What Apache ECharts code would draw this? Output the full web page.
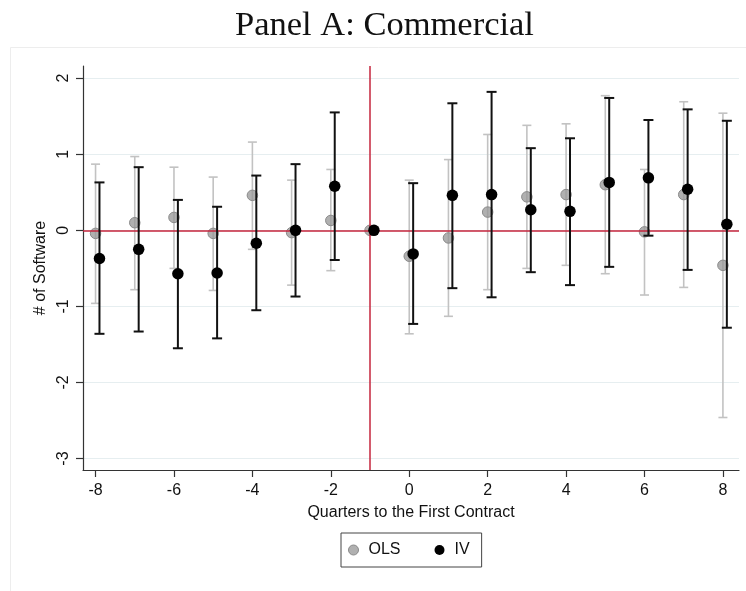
<!DOCTYPE html>
<html>
<head>
<meta charset="utf-8">
<script src="https://cdn.jsdelivr.net/npm/echarts@6/dist/echarts.min.js"></script>
<style>
  html, body { margin: 0; padding: 0; background: #fff; }
  #chart { width: 746px; height: 591px; }
</style>
</head>
<body>
<div id="chart"></div>
<script>
// ---- data ----
const quarters = [-8, -7, -6, -5, -4, -3, -2, -1, 0, 1, 2, 3, 4, 5, 6, 7, 8];
const olsCoef  = [-0.04, 0.10, 0.17, -0.04, 0.46, -0.03, 0.13, 0, -0.34, -0.10, 0.24, 0.44, 0.47, 0.60, -0.02, 0.47, -0.46];
const olsLow   = [-0.96, -0.78, -0.50, -0.79, -0.25, -0.72, -0.53, null, -1.36, -1.13, -0.78, -0.50, -0.46, -0.57, -0.85, -0.75, -2.46];
const olsHigh  = [0.87, 0.97, 0.83, 0.70, 1.16, 0.66, 0.80, null, 0.66, 0.93, 1.26, 1.38, 1.40, 1.77, 0.80, 1.69, 1.54];
const ivCoef   = [-0.37, -0.25, -0.57, -0.56, -0.17, 0.00, 0.58, 0, -0.31, 0.46, 0.47, 0.27, 0.25, 0.63, 0.69, 0.54, 0.08];
const ivLow    = [-1.36, -1.33, -1.55, -1.42, -1.05, -0.87, -0.39, null, -1.23, -0.76, -0.88, -0.55, -0.72, -0.48, -0.07, -0.52, -1.28];
const ivHigh   = [0.63, 0.83, 0.40, 0.31, 0.72, 0.87, 1.55, null, 0.62, 1.67, 1.82, 1.08, 1.21, 1.74, 1.45, 1.59, 1.44];
const xTicks = [-8, -6, -4, -2, 0, 2, 4, 6, 8];
const yTicks = [-3, -2, -1, 0, 1, 2];
const refX = -1;
const refY = 0;
const seriesNames = ['OLS', 'IV'];
const titleText = 'Panel A: Commercial';
const xTitle = 'Quarters to the First Contract';
const yTitle = '# of Software';

// ---- build ----
const ivShift = 0.1;
const RED = '#c4253c';
const FONT = 'Liberation Sans';
const OLS_STYLE = { color: 'rgba(150,150,150,0.75)', borderColor: '#8a8a8a', borderWidth: 1, opacity: 1 };
const IV_STYLE = { color: '#000000', opacity: 1 };

function pts(coef, shift) {
  return quarters.map((q, i) => [q + shift, coef[i]]);
}
function bars(lo, hi, shift) {
  const out = [];
  quarters.forEach((q, i) => { if (lo[i] !== null && hi[i] !== null) out.push([q + shift, lo[i], hi[i]]); });
  return out;
}
function errorBar(color, width, capHalf) {
  return function (params, api) {
    const x = api.value(0);
    const a = api.coord([x, api.value(1)]);
    const b = api.coord([x, api.value(2)]);
    const st = { stroke: color, lineWidth: width };
    return {
      type: 'group',
      children: [
        { type: 'line', shape: { x1: a[0], y1: a[1], x2: b[0], y2: b[1] }, style: st },
        { type: 'line', shape: { x1: a[0] - capHalf, y1: a[1], x2: a[0] + capHalf, y2: a[1] }, style: st },
        { type: 'line', shape: { x1: b[0] - capHalf, y1: b[1], x2: b[0] + capHalf, y2: b[1] }, style: st }
      ]
    };
  };
}

const chart = echarts.init(document.getElementById('chart'), null, { renderer: 'canvas' });
chart.setOption({
  animation: false,
  backgroundColor: '#ffffff',
  textStyle: { fontFamily: FONT },
  title: {
    text: titleText,
    left: 230,
    top: 3,
    textStyle: { fontFamily: 'Liberation Serif', fontSize: 34.5, fontWeight: 'normal', color: '#111' }
  },
  graphic: [{
    type: 'rect', z: -10, silent: true,
    shape: { x: 10.5, y: 47.5, width: 800, height: 600 },
    style: { fill: 'none', stroke: '#ededed', lineWidth: 1 }
  }],
  legend: {
    data: [
      { name: seriesNames[0], icon: 'circle', itemStyle: OLS_STYLE },
      { name: seriesNames[1], icon: 'circle', itemStyle: IV_STYLE }
    ],
    left: 341, top: 533,
    orient: 'horizontal',
    padding: [9, 12, 9, 7],
    itemGap: 34,
    itemWidth: 10, itemHeight: 10,
    borderColor: '#444', borderWidth: 1, borderRadius: 0,
    textStyle: { fontFamily: FONT, fontSize: 16, color: '#111', padding: [0, 0, 0, 5] }
  },
  grid: { left: 83, right: 7, top: 66, bottom: 121, containLabel: false },
  xAxis: {
    type: 'value', min: -8.32, max: 8.41,
    name: xTitle, nameLocation: 'middle', nameGap: 35,
    nameTextStyle: { fontFamily: FONT, fontSize: 16, color: '#111' },
    axisLine: { show: true, onZero: false, lineStyle: { color: '#333', width: 1.2 } },
    axisTick: { show: true, length: 7, customValues: xTicks, lineStyle: { color: '#333', width: 1.2 } },
    axisLabel: { customValues: xTicks, margin: 13, fontSize: 16, color: '#111', fontFamily: FONT },
    splitLine: { show: false }
  },
  yAxis: {
    type: 'value', min: -3.15, max: 2.16,
    name: yTitle, nameLocation: 'middle', nameGap: 25, nameRotate: 90,
    nameTextStyle: { fontFamily: FONT, fontSize: 16, color: '#111' },
    axisLine: { show: true, onZero: false, lineStyle: { color: '#333', width: 1.2 } },
    axisTick: { show: true, length: 7, customValues: yTicks, lineStyle: { color: '#333', width: 1.2 } },
    axisLabel: { customValues: yTicks, rotate: 90, margin: 11, fontSize: 16, color: '#111', fontFamily: FONT },
    splitLine: { show: true, lineStyle: { color: '#e6eef0', width: 1 } }
  },
  series: [
    {
      name: 'OLS', type: 'custom', z: 3,
      renderItem: errorBar('#c2c2c2', 1.6, 4.5),
      itemStyle: OLS_STYLE,
      encode: { x: 0, y: [1, 2] },
      data: bars(olsLow, olsHigh, 0),
      markLine: {
        silent: true, symbol: 'none', label: { show: false },
        lineStyle: { color: RED, width: 1.5, type: 'solid' },
        data: [{ yAxis: refY }, { xAxis: refX }]
      }
    },
    {
      name: 'OLS', type: 'scatter', z: 4,
      symbol: 'circle', symbolSize: 10.5,
      itemStyle: OLS_STYLE,
      data: pts(olsCoef, 0)
    },
    {
      name: 'IV', type: 'custom', z: 5,
      renderItem: errorBar('#111111', 2, 5),
      itemStyle: IV_STYLE,
      encode: { x: 0, y: [1, 2] },
      data: bars(ivLow, ivHigh, ivShift)
    },
    {
      name: 'IV', type: 'scatter', z: 6,
      symbol: 'circle', symbolSize: 11.5,
      itemStyle: IV_STYLE,
      data: pts(ivCoef, ivShift)
    }
  ]
});
</script>
</body>
</html>
